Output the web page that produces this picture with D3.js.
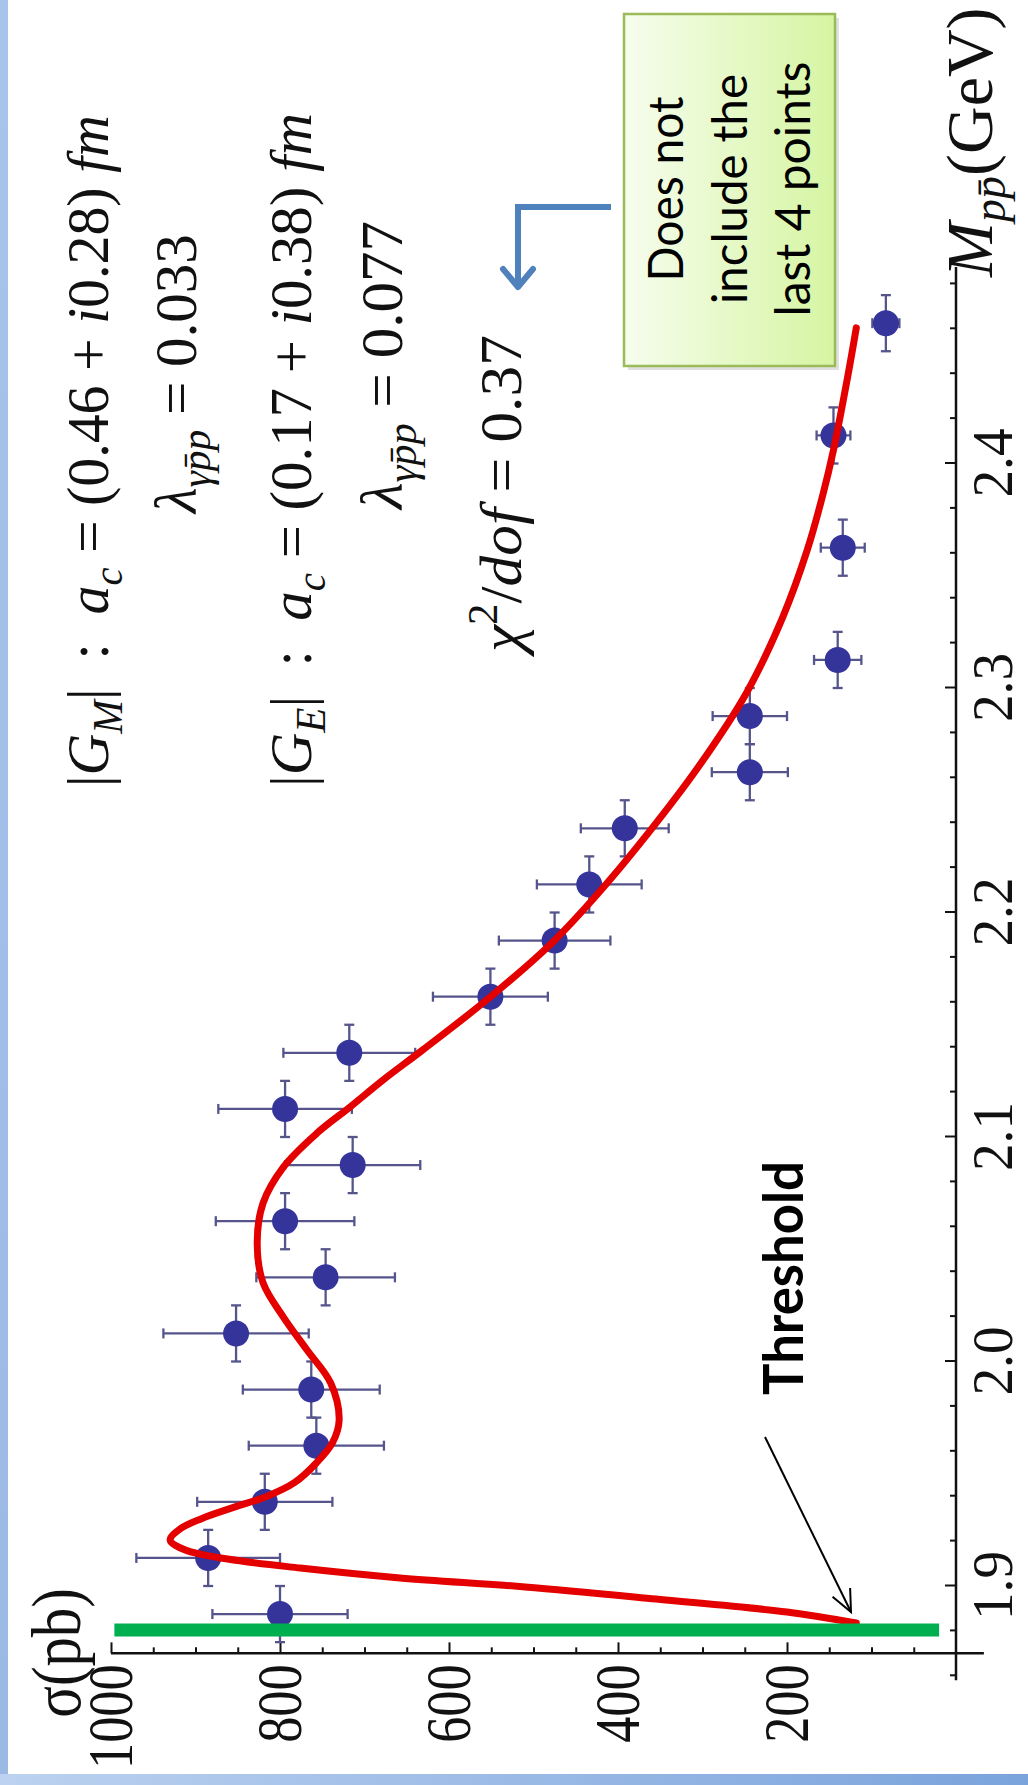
<!DOCTYPE html>
<html>
<head>
<meta charset="utf-8">
<script src="https://cdn.jsdelivr.net/npm/d3@7/dist/d3.min.js"></script>
<style>
  html, body { margin: 0; padding: 0; background: #fff; }
  svg { display: block; }
  text { white-space: pre; }
</style>
</head>
<body>
<svg id="chart"></svg>
<script>
let width = 1028;
let height = 1785;

// measured cross sections (bin centres in GeV, sigma in pb)
let massBins = [1.8875, 1.9125, 1.9375, 1.9625, 1.9875, 2.0125, 2.0375, 2.0625, 2.0875, 2.1125,
                2.1375, 2.1625, 2.1875, 2.2125, 2.2375, 2.2625, 2.2875, 2.3125, 2.3625, 2.4125, 2.4625];
let sigma    = [800, 885, 818, 757, 763, 852, 746, 794, 714, 794,
                718, 551, 475, 434, 392, 244, 244, 140, 134, 145, 83];
let sigmaErr = [80, 85, 80, 80, 81, 86, 82, 82, 80, 79,
                78, 68, 66, 62, 52, 45, 44, 28, 26, 20, 16];
let binHalf  = 0.0125;

// fitted curve
let fitMass  = [1.8835, 1.8884, 1.8942, 1.8996, 1.9036, 1.9080, 1.9120, 1.9160, 1.9205, 1.9255,
                1.9300, 1.9350, 1.9400, 1.9460, 1.9548, 1.9637, 1.9739, 1.9904, 2.0051, 2.0198,
                2.0350, 2.0528, 2.0706, 2.0866, 2.1018, 2.1134, 2.1254, 2.1388, 2.1624, 2.1869,
                2.2100, 2.2350, 2.2648, 2.2978, 2.3316, 2.3615, 2.3869, 2.4060, 2.4390, 2.4604];
let fitSigma = [118, 200, 355, 510, 658, 776, 862, 912, 930, 918,
                893, 855, 815, 783, 757, 738, 730, 740, 768, 796,
                820, 827, 820, 796, 756, 717, 678, 631, 551, 477,
                420, 365, 305, 248, 205, 176, 157, 145, 128, 118];

let thresholdMass = 1.8804;
let thresholdSpan = [20, 996];

let massTicks  = [1.9, 2.0, 2.1, 2.2, 2.3, 2.4];
let sigmaTicks = [200, 400, 600, 800, 1000];

let svg = d3.select('#chart')
            .attr('width', width)
            .attr('height', height);

let defs = svg.append('defs');

let gLeft = defs.append('linearGradient').attr('id', 'leftBand')
  .attr('x1', 0).attr('y1', 0).attr('x2', 0).attr('y2', 1);
gLeft.append('stop').attr('offset', 0).attr('stop-color', '#a9c4ec');
gLeft.append('stop').attr('offset', 1).attr('stop-color', '#9ab9e4');

let gBottom = defs.append('linearGradient').attr('id', 'bottomBand')
  .attr('x1', 0).attr('y1', 0).attr('x2', 1).attr('y2', 0);
gBottom.append('stop').attr('offset', 0).attr('stop-color', '#bcd2f0');
gBottom.append('stop').attr('offset', 1).attr('stop-color', '#7aa3dc');

let gBox = defs.append('linearGradient').attr('id', 'boxFill')
  .attr('x1', 0).attr('y1', 0).attr('x2', 1).attr('y2', 0);
gBox.append('stop').attr('offset', 0).attr('stop-color', '#f6fdee');
gBox.append('stop').attr('offset', 1).attr('stop-color', '#d6f5a2');

// slide frame
svg.append('rect').attr('x', 0).attr('y', 0).attr('width', width).attr('height', height).attr('fill', '#fff');
svg.append('rect').attr('x', 0).attr('y', 0).attr('width', 8).attr('height', height).attr('fill', 'url(#leftBand)');
svg.append('rect').attr('x', 0).attr('y', 1774).attr('width', width).attr('height', 11).attr('fill', 'url(#bottomBand)');

// note box (page coordinates), drawn under the text
svg.append('rect').attr('x', 628).attr('y', 18).attr('width', 211).attr('height', 352)
  .attr('fill', '#000').attr('opacity', 0.12);
svg.append('rect').attr('x', 624).attr('y', 14).attr('width', 211).attr('height', 352)
  .attr('fill', 'url(#boxFill)').attr('stroke', '#9bbb59').attr('stroke-width', 2.5);

// the plot is drawn upright and turned a quarter turn
let g = svg.append('g').attr('transform', `translate(0,${height}) rotate(-90)`);

let x = d3.scaleLinear().domain([1.9, 2.4]).range([199, 1321.5]);
let y = d3.scaleLinear().domain([0, 1000]).range([956, 111]);

let axisMass = 1.870;
let serif = '"Liberation Serif", "Times New Roman", serif';

// mass axis
let xMinor = d3.range(1.86, 2.49, 0.02).filter(v => Math.abs(v * 10 - Math.round(v * 10)) > 0.01);
g.append('g')
  .attr('transform', `translate(0,${y(0)})`)
  .call(d3.axisBottom(x).tickValues(xMinor).tickSize(-6).tickSizeOuter(0).tickFormat(''))
  .call(a => a.select('.domain').remove())
  .selectAll('line').attr('stroke', '#111').attr('stroke-width', 2);

let xAxis = g.append('g')
  .attr('transform', `translate(0,${y(0)})`)
  .call(d3.axisBottom(x).tickValues(massTicks).tickFormat(d3.format('.1f'))
          .tickSize(-11).tickSizeOuter(0).tickPadding(16))
  .call(a => a.select('.domain').remove());
xAxis.selectAll('line').attr('stroke', '#111').attr('stroke-width', 2);
xAxis.selectAll('text')
  .attr('font-family', serif).attr('font-size', 57).attr('fill', '#111')
  .each(function() {
    let w = this.getComputedTextLength();
    d3.select(this).attr('textLength', w * 0.97).attr('lengthAdjust', 'spacingAndGlyphs');
  });

g.append('line')
  .attr('x1', x(1.858)).attr('x2', x(2.4875))
  .attr('y1', y(0)).attr('y2', y(0))
  .attr('stroke', '#111').attr('stroke-width', 2.5);

// sigma axis
let yMinor = d3.range(50, 1001, 50).filter(v => v % 200 !== 0);
g.append('g')
  .attr('transform', `translate(${x(axisMass)},0)`)
  .call(d3.axisLeft(y).tickValues(yMinor).tickSize(-6).tickSizeOuter(0).tickFormat(''))
  .call(a => a.select('.domain').remove())
  .selectAll('line').attr('stroke', '#111').attr('stroke-width', 2);

let yAxis = g.append('g')
  .attr('transform', `translate(${x(axisMass)},0)`)
  .call(d3.axisLeft(y).tickValues(sigmaTicks).tickFormat(d3.format('d'))
          .tickSize(-11).tickSizeOuter(0).tickPadding(11))
  .call(a => a.select('.domain').remove());
yAxis.selectAll('line').attr('stroke', '#111').attr('stroke-width', 2);
yAxis.selectAll('text')
  .attr('font-family', serif).attr('font-size', 63).attr('fill', '#111')
  .each(function() {
    let w = this.getComputedTextLength();
    d3.select(this).attr('textLength', w * 0.83).attr('lengthAdjust', 'spacingAndGlyphs');
  });

g.append('line')
  .attr('x1', x(axisMass)).attr('x2', x(axisMass))
  .attr('y1', y(1000)).attr('y2', y(-33))
  .attr('stroke', '#111').attr('stroke-width', 2.5);

// data
let pts = massBins.map((m, i) => ({ m: m, s: sigma[i], e: sigmaErr[i] }));
let bars = g.append('g').attr('stroke', '#55558c').attr('stroke-width', 2.3);
let cap = 5;
pts.forEach(function(d) {
  bars.append('line').attr('x1', x(d.m - binHalf)).attr('x2', x(d.m + binHalf)).attr('y1', y(d.s)).attr('y2', y(d.s));
  bars.append('line').attr('x1', x(d.m - binHalf)).attr('x2', x(d.m - binHalf)).attr('y1', y(d.s) - cap).attr('y2', y(d.s) + cap);
  bars.append('line').attr('x1', x(d.m + binHalf)).attr('x2', x(d.m + binHalf)).attr('y1', y(d.s) - cap).attr('y2', y(d.s) + cap);
  bars.append('line').attr('x1', x(d.m)).attr('x2', x(d.m)).attr('y1', y(d.s - d.e)).attr('y2', y(d.s + d.e));
  bars.append('line').attr('x1', x(d.m) - cap).attr('x2', x(d.m) + cap).attr('y1', y(d.s - d.e)).attr('y2', y(d.s - d.e));
  bars.append('line').attr('x1', x(d.m) - cap).attr('x2', x(d.m) + cap).attr('y1', y(d.s + d.e)).attr('y2', y(d.s + d.e));
});

g.append('g').selectAll('circle')
  .data(pts)
  .enter()
  .append('circle')
  .attr('cx', d => x(d.m))
  .attr('cy', d => y(d.s))
  .attr('r', 13)
  .attr('fill', '#34349a');

let fit = fitMass.map((m, i) => [m, fitSigma[i]]);
g.append('path')
  .datum(fit)
  .attr('d', d3.line().x(d => x(d[0])).y(d => y(d[1])).curve(d3.curveCatmullRom.alpha(0.5)))
  .attr('fill', 'none')
  .attr('stroke', '#e50000')
  .attr('stroke-width', 7)
  .attr('stroke-linecap', 'round')
  .attr('stroke-linejoin', 'round');

// threshold marker
g.append('rect')
  .attr('x', x(thresholdMass) - 6.5)
  .attr('width', 13)
  .attr('y', y(thresholdSpan[1]))
  .attr('height', y(thresholdSpan[0]) - y(thresholdSpan[1]))
  .attr('fill', '#00b050');

// axis labels
g.append('text')
  .attr('transform', 'translate(132,80) scale(0.84,1)')
  .attr('text-anchor', 'middle')
  .attr('font-family', serif).attr('font-size', 70).attr('fill', '#111')
  .text('σ(pb)');

let mLab = g.append('text')
  .attr('transform', 'translate(1508,992)')
  .attr('font-family', serif).attr('font-size', 66).attr('fill', '#111');
mLab.append('tspan').attr('font-style', 'italic').text('M');
mLab.append('tspan').attr('font-style', 'italic').attr('font-size', 46).attr('dy', 13).text('pp\u0304');
mLab.append('tspan').attr('dy', -13).text('(GeV)');

// formulas
function formula(parts, cx, cy, len) {
  let holder = g.append('g');
  let t = holder.append('text')
    .attr('font-family', serif).attr('font-size', 60).attr('fill', '#111');
  let shift = 0;
  parts.forEach(function(p) {
    let target = p.sub ? 14 : (p.sup ? -24 : 0);
    let sp = t.append('tspan').text(p.t).attr('dy', target - shift);
    shift = target;
    if (p.i) sp.attr('font-style', 'italic');
    if (p.sub || p.sup) sp.attr('font-size', 42);
  });
  let w = t.node().getBBox().width;
  holder.attr('transform', `translate(${cx},${cy}) scale(${len / w},1)`);
}

formula([{t: '|'}, {t: 'G', i: 1}, {t: 'M', i: 1, sub: 1}, {t: '|  :  '}, {t: 'a', i: 1}, {t: 'c', i: 1, sub: 1},
         {t: ' = (0.46 + '}, {t: 'i', i: 1}, {t: '0.28) '}, {t: 'fm', i: 1}], 998, 108, 672);
formula([{t: 'λ', i: 1}, {t: 'γp\u0304p', i: 1, sub: 1}, {t: ' = 0.033'}], 1272, 196, 281);
formula([{t: '|'}, {t: 'G', i: 1}, {t: 'E', i: 1, sub: 1}, {t: '|  :  '}, {t: 'a', i: 1}, {t: 'c', i: 1, sub: 1},
         {t: ' = (0.17 + '}, {t: 'i', i: 1}, {t: '0.38) '}, {t: 'fm', i: 1}], 998, 311, 674);
formula([{t: 'λ', i: 1}, {t: 'γp\u0304p', i: 1, sub: 1}, {t: ' = 0.077'}], 1276, 402, 290);
formula([{t: 'χ', i: 1}, {t: '2', sup: 1}, {t: '/'}, {t: 'dof', i: 1}, {t: ' = 0.37'}], 1133, 521, 322);

// note box text
let sans = 'Lato, "Open Sans", sans-serif';
let boxLines = ['Does not', 'include the', 'last 4 points'];
let boxLens = [185, 230, 255];
let boxBase = [683, 747, 810];
boxLines.forEach(function(s, i) {
  g.append('text')
    .attr('x', 1596).attr('y', boxBase[i])
    .attr('text-anchor', 'middle')
    .attr('font-family', sans).attr('font-size', 48).attr('fill', '#000')
    .attr('textLength', boxLens[i]).attr('lengthAdjust', 'spacingAndGlyphs')
    .text(s);
});

// threshold label
g.append('text')
  .attr('x', 390).attr('y', 803)
  .attr('font-family', sans).attr('font-weight', 'bold').attr('font-size', 56).attr('fill', '#000')
  .attr('textLength', 234).attr('lengthAdjust', 'spacingAndGlyphs')
  .text('Threshold');

// blue elbow arrow
svg.append('path')
  .attr('d', 'M611,207 L518,207 L518,287')
  .attr('fill', 'none').attr('stroke', '#4f81bd').attr('stroke-width', 6);
svg.append('path')
  .attr('d', 'M503,269 L518,287 L533,269')
  .attr('fill', 'none').attr('stroke', '#4f81bd').attr('stroke-width', 6)
  .attr('stroke-linecap', 'round').attr('stroke-linejoin', 'round');

// threshold arrow
let a0 = [765, 1437], a1 = [851, 1612];
svg.append('line')
  .attr('x1', a0[0]).attr('y1', a0[1]).attr('x2', a1[0]).attr('y2', a1[1])
  .attr('stroke', '#000').attr('stroke-width', 2);
let ang = Math.atan2(a1[1] - a0[1], a1[0] - a0[0]);
let head = [ang + Math.PI - 0.42, ang + Math.PI + 0.42].map(t => [a1[0] + 24 * Math.cos(t), a1[1] + 24 * Math.sin(t)]);
svg.append('path')
  .attr('d', `M${head[0][0]},${head[0][1]} L${a1[0]},${a1[1]} L${head[1][0]},${head[1][1]}`)
  .attr('fill', 'none').attr('stroke', '#000').attr('stroke-width', 2);
</script>
</body>
</html>
